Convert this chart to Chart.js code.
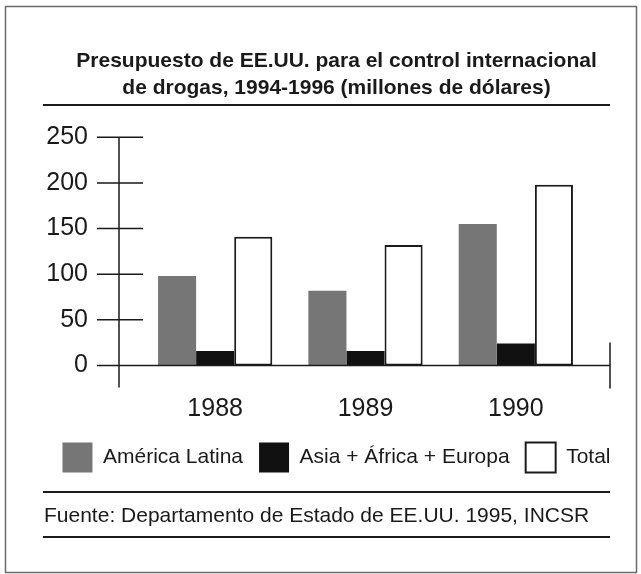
<!DOCTYPE html>
<html><head><meta charset="utf-8">
<script src="https://cdn.jsdelivr.net/npm/chart.js@4.4.1/dist/chart.umd.min.js"></script>
<style>html,body{margin:0;padding:0;background:#fff;} canvas{display:block;}</style>
</head><body>
<canvas id="c" width="641" height="574"></canvas>
<script>
const categories = ['1988', '1989', '1990'];
const americaLatina = [98, 82, 155];
const asiaAfricaEuropa = [16, 16, 24];
const totalValues = [141, 132, 198];
const yTicks = [0, 50, 100, 150, 200, 250];
const seriesNames = ['América Latina', 'Asia + África + Europa', 'Total'];
const titleLines = ['Presupuesto de EE.UU. para el control internacional', 'de drogas, 1994-1996 (millones de dólares)'];
const sourceText = 'Fuente: Departamento de Estado de EE.UU. 1995, INCSR';

const FONT = "'Liberation Sans', Arial, Helvetica, sans-serif";
const INK = '#1a1a1a';

const decor = {
  id: 'decor',
  beforeDraw(chart) {
    const ctx = chart.ctx;
    ctx.save();
    ctx.fillStyle = '#fff';
    ctx.fillRect(0, 0, chart.width, chart.height);
    ctx.strokeStyle = '#6a6a6a';
    ctx.lineWidth = 1.5;
    ctx.strokeRect(5.5, 6.5, 631, 566);
    ctx.restore();
  },
  afterDraw(chart) {
    const {ctx, chartArea, scales} = chart;
    const y = scales.y;
    const y0 = y.getPixelForValue(0);
    const yTop = y.getPixelForValue(yTicks[yTicks.length - 1]);
    const ax = chartArea.left - 21;
    const xr = chartArea.right + 19;
    ctx.save();
    ctx.strokeStyle = INK;
    ctx.lineWidth = 1.5;
    ctx.beginPath();
    ctx.moveTo(ax, yTop); ctx.lineTo(ax, y0 + 22);
    yTicks.forEach(v => { const p = y.getPixelForValue(v); ctx.moveTo(ax - 22, p); ctx.lineTo(ax + 24, p); });
    ctx.moveTo(ax - 22, y0); ctx.lineTo(xr, y0);
    ctx.moveTo(xr, y0 - 23); ctx.lineTo(xr, y0 + 23);
    ctx.stroke();
    ctx.lineWidth = 2;
    ctx.beginPath();
    [105, 492, 537].forEach(ry => { ctx.moveTo(43, ry); ctx.lineTo(610, ry); });
    ctx.stroke();
    ctx.restore();
  }
};

new Chart(document.getElementById('c'), {
  type: 'bar',
  data: {
    labels: categories,
    datasets: [
      {label: seriesNames[0], data: americaLatina, backgroundColor: '#767676', borderWidth: 0},
      {label: seriesNames[1], data: asiaAfricaEuropa, backgroundColor: '#111111', borderWidth: 0},
      {label: seriesNames[2], data: totalValues, backgroundColor: '#ffffff', borderColor: INK, borderWidth: 2, borderSkipped: false}
    ]
  },
  options: {
    responsive: false,
    animation: false,
    devicePixelRatio: 1,
    layout: {padding: {left: 44, right: 12, top: 6, bottom: 5}},
    datasets: {bar: {categoryPercentage: 0.76, barPercentage: 1.0}},
    scales: {
      x: {
        offset: true,
        grid: {display: false, drawTicks: false},
        border: {display: false},
        ticks: {color: INK, font: {family: FONT, size: 25, lineHeight: 1.44}, padding: 25.5},
        afterFit: s => { s.height = 60.9; }
      },
      y: {
        min: 0, max: 250,
        grid: {display: false, drawTicks: false},
        border: {display: false},
        ticks: {color: INK, font: {family: FONT, size: 25}, padding: 52},
        afterBuildTicks: s => { s.ticks = yTicks.map(v => ({value: v})); },
        afterFit: s => { s.width = 96; }
      },
      yR: {
        position: 'right',
        grid: {display: false},
        border: {display: false},
        ticks: {display: false},
        afterFit: s => { s.width = 38; }
      }
    },
    plugins: {
      title: {display: true, text: titleLines, color: INK, font: {family: FONT, size: 21, weight: 'bold', lineHeight: 27 / 21}, padding: {top: 41.5, bottom: 35.8}},
      subtitle: {display: true, position: 'bottom', align: 'start', text: sourceText, color: INK, font: {family: FONT, size: 21, lineHeight: 1.2}, padding: {top: 21.4, bottom: 40}},
      legend: {position: 'bottom', labels: {boxWidth: 30, boxHeight: 30, padding: 16, color: INK, font: {family: FONT, size: 21}}},
      tooltip: {enabled: false}
    }
  },
  plugins: [decor]
});
</script>
</body></html>
